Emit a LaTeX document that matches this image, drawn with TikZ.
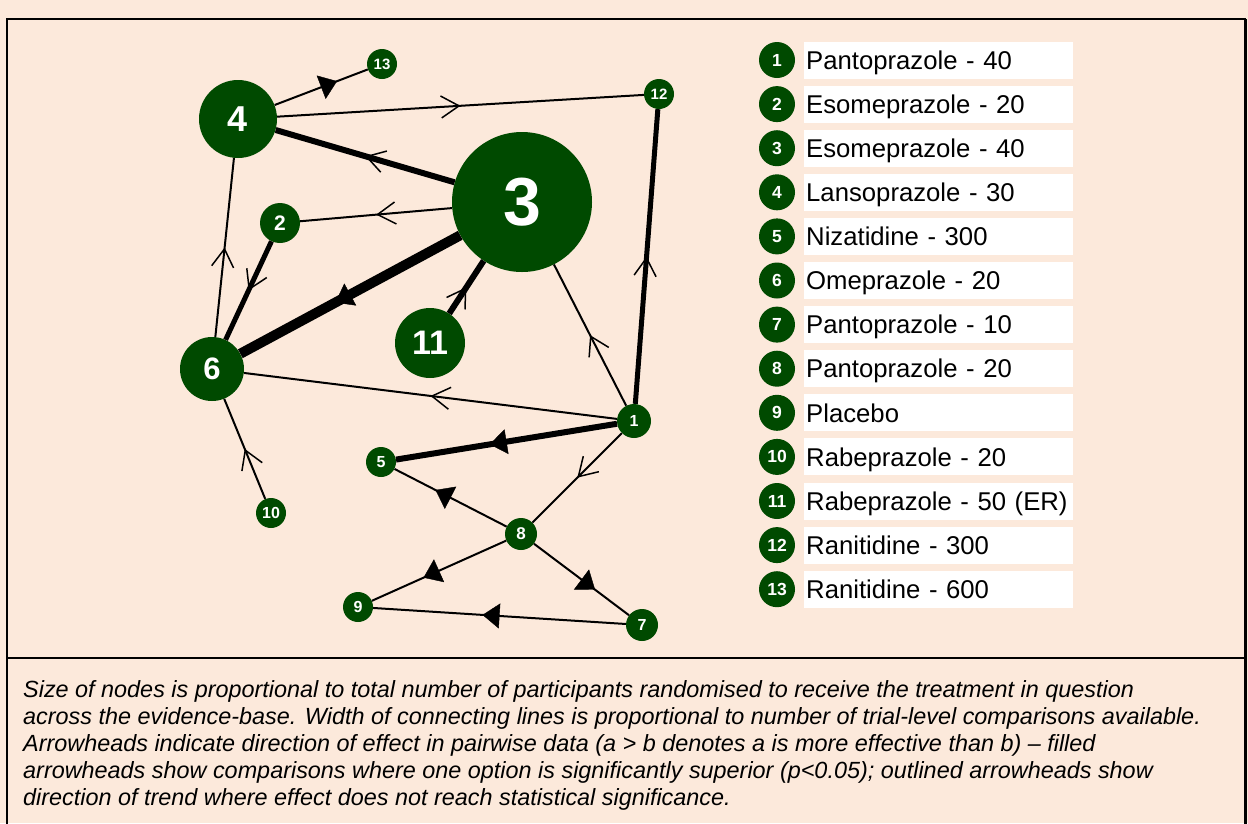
\documentclass[tikz,border=0pt]{standalone}
\usepackage{fontspec}
\setmainfont{Liberation Sans}
\usetikzlibrary{arrows.meta,decorations.markings}
\definecolor{netgreen}{RGB}{0,74,0}
\definecolor{peach}{RGB}{252,233,219}

\begin{document}
\begin{tikzpicture}[
x=1pt,y=-1pt,
trt/.style={
  circle,
  fill=netgreen,
  text=white,
  inner sep=0pt
  },
sig/.style={
  postaction={decorate},
  decoration={markings,mark=at position 0.5 with {\pgftransformxshift{17pt}\arrow{Triangle[length=17pt,width=25pt,line width=0.4pt]}}}
  },
trend/.style={
  postaction={decorate},
  decoration={markings,mark=at position 0.5 with {\arrow{Straight Barb[length=18pt,width=22pt,line width=1.5pt]}}}
  },
legbox/.style={
  fill=white,
  anchor=west,
  minimum height=37pt,
  text width=265pt,
  text height=18.4pt,
  text depth=0pt,
  inner xsep=2pt,
  font=\fontsize{25.7}{25.7}\selectfont
  }
]
\useasboundingbox (0,0) rectangle (1248,823);
\fill[peach] (0,0) rectangle (1248,823);
\begin{scope}
  \clip (0,0) rectangle (1248,823);
  \draw[line width=1.5pt] (7,19) rectangle (1245,850);
  \draw[line width=3pt] (1245,19) -- (1245,850);
\end{scope}
\draw[line width=1.2pt] (7,658) -- (1245,658);
% treatments
\foreach \Num/\X/\Y/\R/\Size in {
  1/634/421/17/16, 2/280/223/20/21, 3/522/202/70/68, 4/238/119/39/36,
  5/381/462/15/16, 6/212/369/32/31, 7/642/625/16/16, 8/521/534/16/17,
  9/358/607/15/16, 10/271/513/15/16, 11/430/343/35/34, 12/659/94/15/15,
  13/382/64/15/15}
  \node[trt,minimum size={2*\R pt},font=\bfseries\fontsize{\Size}{\Size}\selectfont] (n\Num) at (\X,\Y) {\Num};
% comparisons
\path[line width=2pt]
  (n4) edge[sig] (n13)
  (n4) edge[trend] (n12)
  (n3) edge[trend,line width=6pt] (n4)
  (n3) edge[trend] (n2)
  (n3) edge[sig,line width=10pt] (n6)
  (n11) edge[trend,line width=6pt] (n3)
  (n2) edge[trend,line width=5pt] (n6)
  (n6) edge[trend] (n4)
  (n1) edge[trend] (n3)
  (n1) edge[trend,line width=5pt] (n12)
  (n1) edge[trend] (n6)
  (n10) edge[trend] (n6)
  (n1) edge[sig,line width=6pt] (n5)
  (n1) edge[trend] (n8)
  (n8) edge[sig] (n5)
  (n8) edge[sig] (n9)
  (n8) edge[sig] (n7)
  (n7) edge[sig] (n9);
% key
\foreach \Num/\Drug [count=\Row from 0] in {
  1/Pantoprazole - 40, 2/Esomeprazole - 20, 3/Esomeprazole - 40,
  4/Lansoprazole - 30, 5/Nizatidine - 300, 6/Omeprazole - 20,
  7/Pantoprazole - 10, 8/Pantoprazole - 20, 9/Placebo,
  10/Rabeprazole - 20, 11/Rabeprazole - 50 (ER), 12/Ranitidine - 300,
  13/Ranitidine - 600}
{
  \node[trt,minimum size=36pt,font=\bfseries\fontsize{17.5}{17.5}\selectfont] (k\Num) at (777,{60+44.1*\Row}) {\Num};
  \node[legbox] (d\Num) at (804,{60+44.1*\Row}) {\Drug};
}
\node[anchor=north west,inner sep=0pt,align=left,font=\itshape\fontsize{23.4}{27}\selectfont] (note) at (23,680)
  {Size of nodes is proportional to total number of participants randomised to receive the treatment in question\\
   across the evidence-base. Width of connecting lines is proportional to number of trial-level comparisons available.\\
   Arrowheads indicate direction of effect in pairwise data (a > b denotes a is more effective than b) -- filled\\
   arrowheads show comparisons where one option is significantly superior (p<0.05); outlined arrowheads show\\
   direction of trend where effect does not reach statistical significance.};
\end{tikzpicture}
\end{document}
